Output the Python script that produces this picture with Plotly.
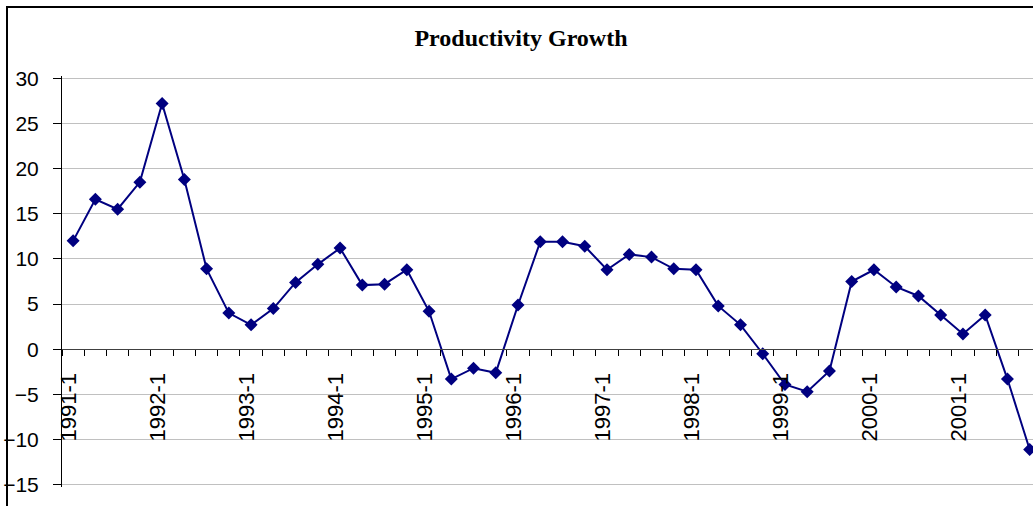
import plotly.graph_objects as go

# quarterly productivity growth, 1991-1 .. 2001-4
quarters = [f"{yr}-{q}" for yr in range(1991, 2002) for q in range(1, 5)]
growth = [
    12.0, 16.6, 15.5, 18.5,
    27.2, 18.8, 8.9, 4.0,
    2.7, 4.5, 7.4, 9.4,
    11.2, 7.1, 7.2, 8.8,
    4.2, -3.3, -2.1, -2.6,
    4.9, 11.9, 11.9, 11.4,
    8.8, 10.5, 10.2, 8.9,
    8.8, 4.8, 2.7, -0.5,
    -3.9, -4.7, -2.4, 7.5,
    8.8, 6.9, 5.9, 3.8,
    1.7, 3.8, -3.3, -11.1,
]
tick_text = [q if q.endswith("-1") else "" for q in quarters]

NAVY = "#000080"
W, H = 1033, 506
L, R, T, B = 62, 0, 76, 19
Y_LO, Y_HI = -15.25, 30.25  # a touch of slack so the 30 / -15 gridlines get drawn

fig = go.Figure()
fig.add_trace(
    go.Scatter(
        x=quarters,
        y=growth,
        mode="lines+markers",
        line=dict(color=NAVY, width=2),
        marker=dict(symbol="diamond", size=10, color=NAVY),
        cliponaxis=False,
        showlegend=False,
    )
)

# outer chart frame (left and top edges show, the rest runs off the page)
pw, ph = W - L - R, H - T - B
fig.add_shape(
    type="rect", xref="paper", yref="paper",
    x0=(7 - L) / pw, x1=1.2, y0=-0.3, y1=1 + (T - 7) / ph,
    line=dict(color="black", width=2), layer="above",
)

fig.update_layout(
    width=W, height=H,
    margin=dict(l=L, r=R, t=T, b=B, pad=0),
    paper_bgcolor="white",
    plot_bgcolor="white",
    font=dict(family="Liberation Sans, Arial", size=21, color="black"),
    title=dict(
        text="<b>Productivity Growth</b>",
        font=dict(family="Liberation Serif, Times New Roman", size=24, color="black"),
        x=521 / W, xanchor="center", xref="container",
        y=1 - 38 / H, yanchor="middle", yref="container",
    ),
    xaxis=dict(
        type="category",
        range=[-0.5, 43.15],
        anchor="free", position=-Y_LO / (Y_HI - Y_LO),
        tickmode="array", tickvals=quarters, ticktext=tick_text,
        tickson="boundaries",
        ticks="outside", ticklen=6, tickcolor="black",
        tickangle=-90,
        ticklabelstandoff=14,
        ticklabelshift=-4,
        tickfont=dict(size=22),
        showline=True, linecolor="#404040", linewidth=1,
        showgrid=False, zeroline=False,
    ),
    yaxis=dict(
        range=[Y_LO, Y_HI], dtick=5,
        ticks="outside", ticklen=8, tickcolor="black",
        ticklabelstandoff=10,
        showline=True, linecolor="black", linewidth=1,
        showgrid=True, gridcolor="#c0c0c0", gridwidth=1,
        zeroline=False,
    ),
)

# drop the browser's default 8px body margin so the chart sits at the page corner
fig.write_html(
    "out.html",
    config={"displayModeBar": False},
    post_script="document.body.style.margin='0';",
)
